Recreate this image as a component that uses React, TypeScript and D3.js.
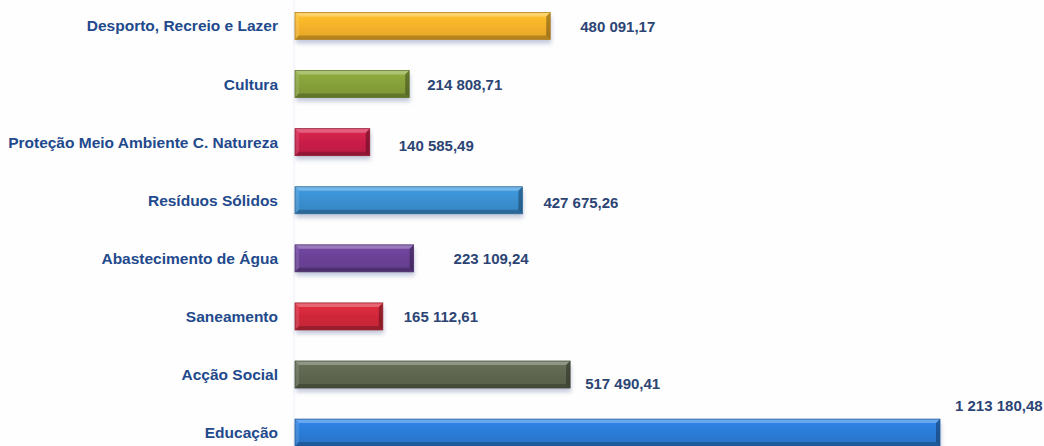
import React from "react";
import * as d3 from "d3";

const categories = [
  "Desporto, Recreio e Lazer",
  "Cultura",
  "Proteção Meio Ambiente C. Natureza",
  "Resíduos Sólidos",
  "Abastecimento de Água",
  "Saneamento",
  "Acção Social",
  "Educação",
];
const values = [480091.17, 214808.71, 140585.49, 427675.26, 223109.24, 165112.61, 517490.41, 1213180.48];
const valueLabels = [
  "480 091,17",
  "214 808,71",
  "140 585,49",
  "427 675,26",
  "223 109,24",
  "165 112,61",
  "517 490,41",
  "1 213 180,48",
];

// style / layout (not data)
const barColors = ["#f5b22a", "#86a03a", "#c91f48", "#3a8fd0", "#6a4196", "#d0283a", "#5e6650", "#2b7bd6"];
const labelOffsets: [number, number][] = [
  [30, 1], [18, 0.5], [29, 3.5], [21, 2], [40, 0.5], [21, 0], [15, 9], [15, -27],
];

const W = 1044;
const H = 446;
const BAR_H = 27;

export default function App() {
  const x = d3.scaleLinear().domain([0, 1213180.48]).range([295, 940]);
  const y = d3.scalePoint<string>().domain(categories).range([26, 432.6]).padding(0);
  const b = 4;

  return (
    <svg
      width={W}
      height={H}
      style={{ position: "absolute", left: 0, top: 0, background: "#fefefe" }}
      fontFamily="'Liberation Sans', Arial, sans-serif"
    >
      <defs>
        <filter id="shadow" x="-5%" y="-40%" width="110%" height="200%">
          <feDropShadow dx="1" dy="4" stdDeviation="2.2" floodColor="#7d88b0" floodOpacity="0.45" />
        </filter>
        {barColors.map((c, i) => {
          const cc = d3.color(c)!;
          return (
            <linearGradient key={i} id={`g${i}`} x1="0" y1="0" x2="0" y2="1">
              <stop offset="0" stopColor={cc.brighter(0.25).formatHex()} />
              <stop offset="0.5" stopColor={c} />
              <stop offset="1" stopColor={cc.darker(0.2).formatHex()} />
            </linearGradient>
          );
        })}
      </defs>
      <line x1={294} x2={294} y1={0} y2={H} stroke="#eef0f6" strokeWidth={1} />
      {categories.map((cat, i) => {
        const cy = y(cat)!;
        const x0 = x(0);
        const x1 = x(values[i]);
        const y0 = cy - BAR_H / 2;
        const y1 = cy + BAR_H / 2;
        const dark = d3.color(barColors[i])!.darker(0.9).formatHex();
        const pts = (p: number[][]) => p.map((q) => q.join(",")).join(" ");
        return (
          <g key={cat}>
            <rect x={x0} y={y0} width={x1 - x0} height={BAR_H} fill={`url(#g${i})`} filter="url(#shadow)" />
            <polygon points={pts([[x0, y0], [x1, y0], [x1 - b, y0 + b], [x0 + b, y0 + b]])} fill="#fff" opacity={0.28} />
            <polygon points={pts([[x0, y1], [x1, y1], [x1 - b, y1 - b], [x0 + b, y1 - b]])} fill="#000" opacity={0.22} />
            <polygon points={pts([[x0, y0], [x0 + b, y0 + b], [x0 + b, y1 - b], [x0, y1]])} fill="#fff" opacity={0.12} />
            <polygon points={pts([[x1, y0], [x1 - b, y0 + b], [x1 - b, y1 - b], [x1, y1]])} fill="#000" opacity={0.3} />
            <rect x={x0} y={y0} width={x1 - x0} height={BAR_H} fill="none" stroke={dark} strokeWidth={0.8} />
            <text
              x={278}
              y={cy}
              dy="0.35em"
              textAnchor="end"
              fontSize={15.5}
              fontWeight="bold"
              fill="#22498c"
            >
              {cat}
            </text>
            <text
              x={x1 + labelOffsets[i][0]}
              y={cy + labelOffsets[i][1]}
              dy="0.35em"
              fontSize={15}
              fontWeight="bold"
              fill="#2c4474"
            >
              {valueLabels[i]}
            </text>
          </g>
        );
      })}
    </svg>
  );
}
